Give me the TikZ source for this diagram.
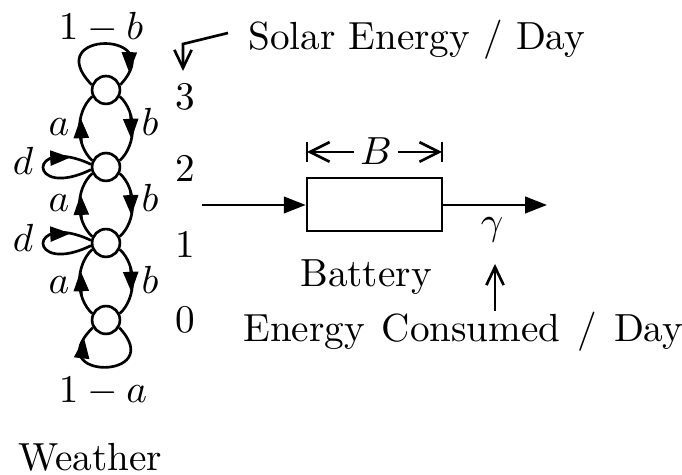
\documentclass[tikz,border=0pt]{standalone}
\usetikzlibrary{arrows.meta}
\begin{document}
\begin{tikzpicture}[x=0.255pt,y=-0.255pt, line width=0.68pt,
  state/.style={circle,draw,minimum size=7.1pt,inner sep=0pt,fill=white},
  lbl/.style={inner sep=0pt,anchor=base},
  lblw/.style={inner sep=0pt,anchor=base west},
  smalltip/.style={-{Triangle[length=5.2pt,width=3.8pt]}},
  bigtip/.style={-{Triangle[length=5.6pt,width=4.2pt]}},
  opentip/.style={-{Straight Barb[length=4.6pt,width=4.4pt]}},
  dimtip/.style={-{Straight Barb[length=5pt,width=5pt]}},
  battbox/.style={draw,rectangle,minimum width=34.4pt,minimum height=13.5pt,inner sep=0pt}]
\useasboundingbox (0,0) rectangle (682,475);

% states
\node[state] (n3) at (106,90) {};
\node[state] (n2) at (106,167) {};
\node[state] (n1) at (106,243) {};
\node[state] (n0) at (106,320) {};

% transitions between neighbouring states
\foreach \u/\l in {n3/n2, n2/n1, n1/n0}{
  \draw (\l.155) .. controls +(-17,-16) and +(-17,16) .. (\u.205)
     coordinate[pos=0.3] (\u-up1) coordinate[pos=0.65] (\u-up2);
  \draw[smalltip] (\u-up1) -- (\u-up2);
  \draw (\u.-25) .. controls +(17,16) and +(17,-16) .. (\l.25)
     coordinate[pos=0.3] (\u-dn1) coordinate[pos=0.65] (\u-dn2);
  \draw[smalltip] (\u-dn1) -- (\u-dn2);
}
% self loops
\draw (n3.160) .. controls +(-53,-55) and +(51,-55) .. (n3.20)
   coordinate[pos=0.74] (t1) coordinate[pos=0.92] (t2);
\draw[smalltip] (t1) -- (t2);
\draw (n0.-30) .. controls +(50,53) and +(-54,53) .. (n0.-150)
   coordinate[pos=0.74] (z1) coordinate[pos=0.93] (z2);
\draw[smalltip] (z1) -- (z2);
\draw (n2.190) .. controls +(-64,31) and +(-64,-30) .. (n2.170)
   coordinate[pos=0.7] (dd1) coordinate[pos=0.88] (dd2);
\draw[smalltip] (dd1) -- (dd2);
\draw (n1.190) .. controls +(-64,31) and +(-64,-30) .. (n1.170)
   coordinate[pos=0.7] (de1) coordinate[pos=0.88] (de2);
\draw[smalltip] (de1) -- (de2);

% transition labels
\node[lbl] (l1b) at (101,40) {$1-b$};
\node[lbl] (l1a) at (103,403) {$1-a$};
\node[lbl] (a1) at (59,136) {$a$};
\node[lbl] (a2) at (59,212) {$a$};
\node[lbl] (a3) at (59,294) {$a$};
\node[lbl] (b1) at (150,136) {$b$};
\node[lbl] (b2) at (150,212) {$b$};
\node[lbl] (b3) at (150,294) {$b$};
\node[lbl] (d2) at (23,175) {$d$};
\node[lbl] (d1) at (23,252) {$d$};

% state numbers
\node[lblw] (s3) at (174,110) {3};
\node[lblw] (s2) at (174,182) {2};
\node[lblw] (s1) at (174,258) {1};
\node[lblw] (s0) at (174,333) {0};

\node[lblw] (weather) at (17,471) {Weather};

% solar energy
\node[lblw] (solar) at (247,50) {Solar Energy / Day};
\coordinate (sa) at (228,33);
\coordinate (sb) at (183,44);
\coordinate (sc) at (183,71);
\draw[opentip] (sa) -- (sb) -- (sc);

% battery
\node[battbox] (bat) at (374.5,204.5) {};
\coordinate (inp) at (202,205);
\coordinate (outp) at (547,205);
\draw[bigtip] (inp) -- (bat.west |- inp);
\draw[bigtip] (bat.east |- outp) -- (outp);
\node[lbl] (gamma) at (492,235) {$\gamma$};
\node[lblw] (battery) at (299,287) {Battery};

% dimension B
\node[inner xsep=1.2pt,inner ysep=0pt] (B) at (376,151) {$B$};
\coordinate (bl) at (307,152);
\coordinate (br) at (442,152);
\draw (307,142) -- (307,162);
\draw (442,142) -- (442,162);
\draw[dimtip] (B.west |- bl) -- (bl);
\draw[dimtip] (B.east |- br) -- (br);

% energy consumed
\node[lblw] (cons) at (242,342) {\spaceskip=4.3pt Energy Consumed / Day};
\coordinate (ca) at (495,311);
\coordinate (cb) at (495,264);
\draw[opentip] (ca) -- (cb);
\end{tikzpicture}
\end{document}
